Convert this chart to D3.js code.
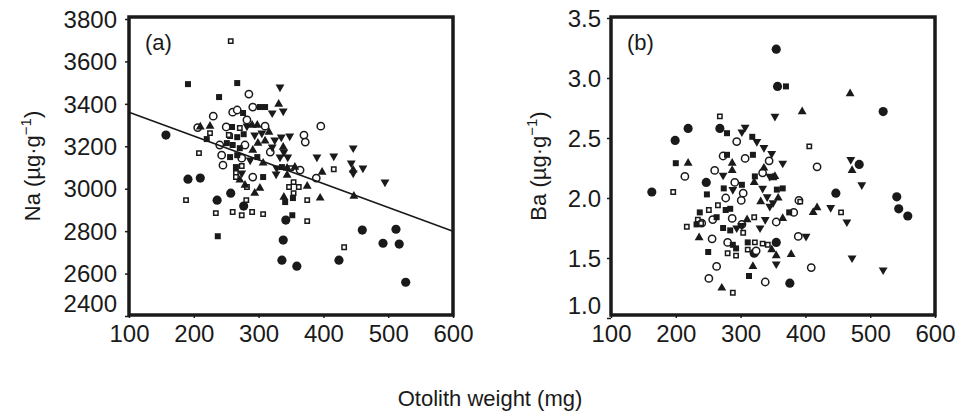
<!DOCTYPE html>
<html>
<head>
<meta charset="utf-8">
<title>Na and Ba vs otolith weight</title>
<style>
  body { margin: 0; background: white; }
  svg { display: block; font-family: "Liberation Sans", Arial, sans-serif; }
</style>
<script src="https://d3js.org/d3.v7.min.js"></script>
</head>
<body>
<script>
// ---- data: [otolith weight (mg), concentration] ----
let naFilledCircle = [[157,3253],[191,3045],[210,3050],[236,2946],[257,2979],[277,2918],[342,2852],[338,2758],[336,2663],[359,2635],[424,2663],[460,2805],[512,2809],[492,2743],[517,2739],[527,2559]]
let naOpenCircle = [[285,3446],[260,3361],[267,3371],[291,3385],[230,3342],[206,3288],[250,3291],[282,3324],[310,3295],[396,3295],[370,3253],[372,3220],[364,3088],[389,3050],[240,3206],[279,3206],[243,3158],[245,3111],[274,3144],[291,3055],[318,3173]]
let naFilledSquare = [[191,3493],[267,3498],[239,3432],[302,3385],[310,3385],[276,3357],[259,3291],[267,3243],[277,3257],[220,3234],[251,3215],[260,3206],[271,3191],[256,3149],[267,3158],[298,3149],[336,3102],[265,3102],[307,3055],[341,2937],[353,2956],[352,2875],[237,2776]]
let naOpenSquare = [[257,3696],[225,3262],[256,3248],[271,3286],[254,3253],[208,3168],[188,2946],[350,3097],[416,3092],[274,3107],[265,3074],[265,3055],[354,3031],[347,3008],[362,3008],[354,2979],[282,3008],[281,2946],[375,2946],[234,2885],[260,2890],[274,2875],[290,2890],[307,2880],[375,2847],[432,2724]]
let naTriUp = [[331,3399],[210,3291],[225,3295],[290,3300],[298,3300],[316,3267],[291,3182],[299,3215],[310,3225],[338,3196],[307,3121],[344,3097],[356,3102],[398,3078],[344,3064],[271,3041],[279,3017],[302,3003],[294,2979],[375,3012],[339,2960],[395,2956],[447,2965],[446,3088]]
let naTriDown = [[333,3479],[321,3357],[338,3366],[282,3295],[305,3262],[294,3253],[335,3243],[348,3248],[321,3196],[325,3229],[339,3173],[333,3149],[345,3149],[287,3135],[328,3097],[327,3069],[274,3074],[390,3149],[416,3154],[446,3192],[443,3121],[461,3097],[446,3074],[495,3031]]
let naFitWeight = [100, 600]
let naFitValue = [3361, 2800]

let baFilledCircle = [[355,3.24],[357,2.93],[219,2.58],[199,2.48],[268,2.58],[247,2.13],[163,2.05],[355,1.63],[321,1.54],[376,1.29],[520,2.72],[483,2.28],[447,2.04],[541,2.01],[544,1.91],[558,1.85]]
let baOpenCircle = [[294,2.47],[273,2.35],[307,2.33],[344,2.31],[260,2.23],[214,2.18],[334,2.21],[291,2.13],[304,2.04],[301,1.98],[277,2.00],[390,1.98],[257,1.82],[240,1.79],[287,1.83],[355,1.80],[382,1.88],[302,1.78],[389,1.68],[256,1.66],[280,1.63],[324,1.56],[263,1.43],[251,1.33],[338,1.30],[409,1.42],[418,2.26]]
let baFilledSquare = [[279,2.54],[318,2.51],[279,2.36],[319,2.36],[200,2.29],[248,2.03],[322,2.18],[302,2.11],[274,2.08],[356,2.07],[365,2.08],[237,1.88],[263,1.84],[277,1.90],[284,1.91],[232,1.78],[273,1.75],[284,1.73],[288,1.61],[293,1.58],[311,1.63],[250,1.55],[313,1.35],[370,2.93],[375,1.88]]
let baOpenSquare = [[268,2.68],[406,2.43],[196,2.05],[265,1.94],[251,1.90],[234,1.82],[217,1.76],[321,1.84],[304,1.71],[322,1.63],[334,1.62],[342,1.61],[280,1.54],[293,1.52],[311,1.57],[288,1.21],[455,1.88],[239,1.79],[392,1.97]]
let baTriUp = [[219,2.29],[287,2.29],[287,2.23],[336,2.25],[353,2.18],[321,2.13],[331,1.97],[358,2.00],[310,1.82],[365,1.83],[236,1.67],[348,1.57],[355,1.52],[378,1.53],[319,1.43],[271,1.25],[469,2.87],[395,2.72],[472,2.23],[418,1.92],[412,1.88],[350,2.17]]
let baTriDown = [[353,2.68],[307,2.59],[302,2.55],[325,2.47],[336,2.42],[348,2.37],[365,2.29],[273,2.19],[345,2.18],[288,2.07],[334,2.08],[341,2.01],[350,1.96],[345,1.93],[302,1.77],[338,1.82],[294,1.75],[330,1.75],[355,1.45],[470,2.32],[487,2.11],[439,1.92],[464,1.80],[401,1.68],[472,1.50],[520,1.40]]

let xTicks = [100, 200, 300, 400, 500, 600]
let naTicks = [2400, 2600, 2800, 3000, 3200, 3400, 3600, 3800]
let baTicks = [1.0, 1.5, 2.0, 2.5, 3.0, 3.5]

// ---- canvas ----
let width = 979
let height = 418
let svg = d3.select("body").append("svg")
    .attr("width", width)
    .attr("height", height)

let plotTop = 17
let plotBottom = 315
let ink = "#1a1a1a"

// marker styles, same order for both panels
let markers = [
    {type: d3.symbolCircle, size: 66, fill: ink, stroke: "none", rot: 0},
    {type: d3.symbolCircle, size: 42, fill: "white", stroke: ink, rot: 0},
    {type: d3.symbolSquare, size: 36, fill: ink, stroke: "none", rot: 0},
    {type: d3.symbolSquare, size: 19, fill: "white", stroke: ink, rot: 0},
    {type: d3.symbolTriangle, size: 34, fill: ink, stroke: "none", rot: 0},
    {type: d3.symbolTriangle, size: 34, fill: ink, stroke: "none", rot: 180}
]

let drawPanel = (opts) => {
    let x = d3.scaleLinear().domain([100, 600]).range([opts.left, opts.left + 324])
    let y = d3.scaleLinear().domain(opts.domain).range([opts.yBottom, opts.yTop])
    let g = svg.append("g")

    // y axis
    let yAxis = g.append("g")
        .attr("transform", `translate(${opts.left},0)`)
        .call(d3.axisLeft(y).tickValues(opts.ticks).tickSize(4).tickPadding(opts.pad).tickFormat(opts.fmt))
    yAxis.select(".domain").remove()
    yAxis.selectAll("text").attr("font-size", 24).attr("fill", ink)
        .attr("font-family", "Liberation Sans, Arial, sans-serif")
        .attr("dy", (d) => d === opts.domain[0] ? "-0.17em" : "0.34em")
    yAxis.selectAll("line").attr("stroke", ink).attr("stroke-width", 1.5)

    // x axis
    let xAxis = g.append("g")
        .attr("transform", `translate(0,${plotBottom})`)
        .call(d3.axisBottom(x).tickValues(xTicks).tickSize(3).tickPadding(7))
    xAxis.select(".domain").remove()
    xAxis.selectAll("text").attr("font-size", 24).attr("fill", ink)
        .attr("font-family", "Liberation Sans, Arial, sans-serif")
    xAxis.selectAll("line").attr("stroke", ink).attr("stroke-width", 1.5)

    // points
    opts.series.forEach((data, i) => {
        let m = markers[i]
        g.append("g").selectAll("path")
            .data(data)
            .enter()
            .append("path")
            .attr("d", d3.symbol().type(m.type).size(m.size))
            .attr("transform", (d) => `translate(${x(d[0])},${y(d[1])}) rotate(${m.rot})`)
            .attr("fill", m.fill)
            .attr("stroke", m.stroke)
            .attr("stroke-width", 1.5)
    })

    if (opts.fit) {
        g.append("line")
            .attr("x1", x(opts.fit[0][0])).attr("y1", y(opts.fit[1][0]))
            .attr("x2", x(opts.fit[0][1])).attr("y2", y(opts.fit[1][1]))
            .attr("stroke", ink)
            .attr("stroke-width", 1.6)
    }

    // frame
    g.append("rect")
        .attr("x", opts.left).attr("y", plotTop)
        .attr("width", 324).attr("height", plotBottom - plotTop)
        .attr("fill", "none")
        .attr("stroke", ink)
        .attr("stroke-width", 3.5)

    g.append("text")
        .attr("x", opts.left + 16).attr("y", plotTop + 33)
        .attr("font-size", 22).attr("fill", ink)
        .text(opts.tag)

    // y title
    let t = g.append("text")
        .attr("transform", `translate(${opts.titleX},${(plotTop + plotBottom) / 2}) rotate(-90)`)
        .attr("text-anchor", "middle")
        .attr("font-size", 22).attr("fill", ink)
    t.append("tspan").text(opts.title + " (µg·g")
    t.append("tspan").attr("dy", -9).attr("font-size", 15).text("−1")
    t.append("tspan").attr("dy", 9).text(")")
}

drawPanel({
    left: 129, domain: [2400, 3800], yBottom: 316, yTop: 19, ticks: naTicks, pad: 8,
    fmt: d3.format("d"), tag: "(a)", title: "Na", titleX: 40,
    series: [naFilledCircle, naOpenCircle, naFilledSquare, naOpenSquare, naTriUp, naTriDown],
    fit: [naFitWeight, naFitValue]
})

drawPanel({
    left: 611, domain: [1.0, 3.5], yBottom: 318, yTop: 18, ticks: baTicks, pad: 6,
    fmt: d3.format(".1f"), tag: "(b)", title: "Ba", titleX: 546,
    series: [baFilledCircle, baOpenCircle, baFilledSquare, baOpenSquare, baTriUp, baTriDown],
    fit: null
})

svg.append("text")
    .attr("x", 490).attr("y", 406)
    .attr("text-anchor", "middle")
    .attr("font-size", 22).attr("fill", ink)
    .text("Otolith weight (mg)")
</script>
</body>
</html>
